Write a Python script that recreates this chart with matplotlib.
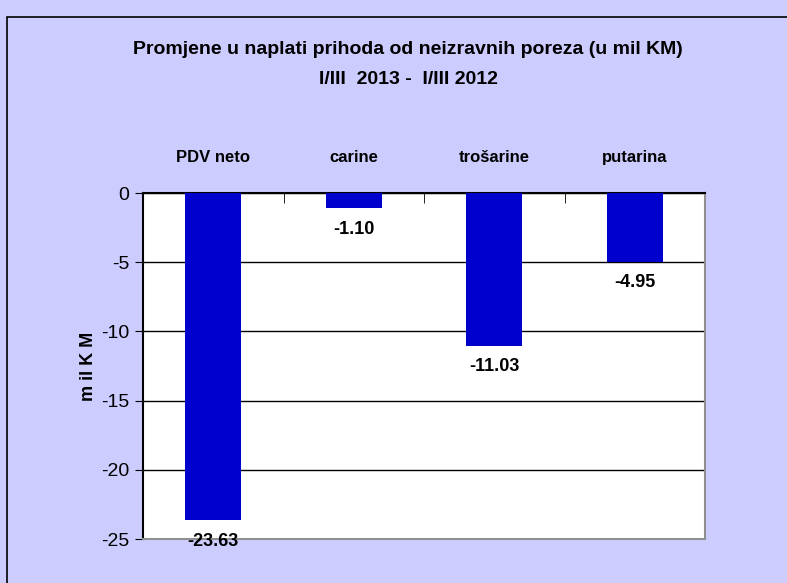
import matplotlib
matplotlib.use("Agg")
import matplotlib.pyplot as plt
from matplotlib.patches import Rectangle

# data
categories = ["PDV neto", "carine", "trošarine", "putarina"]
values = [-23.63, -1.10, -11.03, -4.95]
yticks = [0, -5, -10, -15, -20, -25]

BG = "#CCCCFF"
BAR = "#0000CC"

plt.rcParams['font.family'] = ['Liberation Sans', 'DejaVu Sans']

fig = plt.figure(figsize=(7.87, 5.83), dpi=100)
fig.patch.set_facecolor(BG)

# outer chart border (right and bottom edges run off the image)
fig.patches.append(Rectangle((7 / 787, -0.05), 1.1, 1 - 17 / 583 + 0.05,
                             transform=fig.transFigure, fill=False,
                             edgecolor="black", linewidth=1.2))

ax = fig.add_axes([143 / 787, 1 - 539 / 583, (705 - 143) / 787, (539 - 193) / 583])
ax.set_facecolor("white")

x = range(len(categories))
ax.bar(x, values, width=0.4, color=BAR, zorder=3)

ax.set_ylim(-25, 0)
ax.set_xlim(-0.5, len(categories) - 0.5)
ax.set_yticks(yticks)
ax.set_yticklabels([str(t) for t in yticks], fontsize=14)
ax.yaxis.grid(True, color="black", linewidth=1)
ax.set_axisbelow(True)

# category names on top, separators as inward ticks
ax.xaxis.tick_top()
ax.set_xticks(list(x))
ax.set_xticklabels(categories, fontsize=12, fontweight="bold")
ax.tick_params(axis="x", which="major", length=0, pad=20)
ax.set_xticks([0.5, 1.5, 2.5], minor=True)
ax.tick_params(axis="x", which="minor", direction="in", length=7, color="black", top=True, bottom=False)
ax.tick_params(axis="y", direction="out", length=6, color="black", pad=4)

ax.spines["top"].set_color("black")
ax.spines["left"].set_color("black")
ax.spines["right"].set_color("#909090")
ax.spines["bottom"].set_color("#909090")
for s in ax.spines.values():
    s.set_linewidth(1.5)

for i, v in enumerate(values):
    ax.annotate("%.2f" % v, (i, v), xytext=(0, -9), textcoords="offset points",
                ha="center", va="top", fontsize=13, fontweight="bold")

ax.set_ylabel("m il K M", fontsize=13, fontweight="bold", labelpad=3)

fig.text(408 / 787, 1 - 50 / 583, "Promjene u naplati prihoda od neizravnih poreza (u mil KM)",
         ha="center", va="center", fontsize=14, fontweight="bold")
fig.text(408 / 787, 1 - 79 / 583, "I/III  2013 -  I/III 2012",
         ha="center", va="center", fontsize=14, fontweight="bold")

fig.savefig("out.png", dpi=100, facecolor=BG)
